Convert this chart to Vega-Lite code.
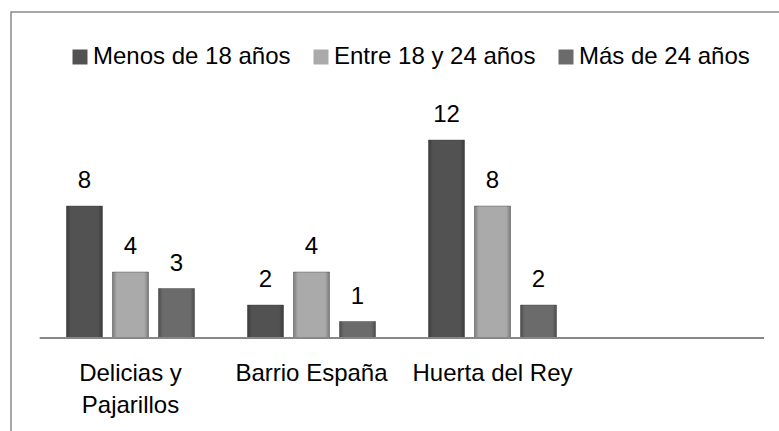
{
  "$schema": "https://vega.github.io/schema/vega-lite/v6.json",
  "width": 963,
  "height": 440,
  "autosize": {"type": "none"},
  "padding": {"left": 11, "top": 12, "right": -195, "bottom": -21},
  "background": "white",
  "config": {
    "view": {"stroke": "#8a8a8a", "strokeWidth": 1.5},
    "font": "Liberation Sans",
    "text": {"font": "Liberation Sans"}
  },
  "data": {
    "values": [
      {"zona": "Delicias y Pajarillos", "grupo": "Menos de 18 años", "valor": 8},
      {"zona": "Delicias y Pajarillos", "grupo": "Entre 18 y 24 años", "valor": 4},
      {"zona": "Delicias y Pajarillos", "grupo": "Más de 24 años", "valor": 3},
      {"zona": "Barrio España", "grupo": "Menos de 18 años", "valor": 2},
      {"zona": "Barrio España", "grupo": "Entre 18 y 24 años", "valor": 4},
      {"zona": "Barrio España", "grupo": "Más de 24 años", "valor": 1},
      {"zona": "Huerta del Rey", "grupo": "Menos de 18 años", "valor": 12},
      {"zona": "Huerta del Rey", "grupo": "Entre 18 y 24 años", "valor": 8},
      {"zona": "Huerta del Rey", "grupo": "Más de 24 años", "valor": 2}
    ]
  },
  "encoding": {
    "x": {
      "field": "zona",
      "type": "nominal",
      "sort": null,
      "scale": {
        "domain": ["Delicias y Pajarillos", "Barrio España", "Huerta del Rey", "_vacío", "_fuera"],
        "paddingInner": 0,
        "paddingOuter": 0.16
      },
      "axis": {
        "orient": "bottom",
        "offset": -114,
        "domain": false,
        "ticks": false,
        "title": null,
        "labelAngle": 0,
        "labelFont": "Liberation Sans",
        "labelFontSize": 24,
        "labelColor": "#000000",
        "labelPadding": 23,
        "labelLineHeight": 32,
        "labelBaseline": "top",
        "labelExpr": "datum.value == 'Delicias y Pajarillos' ? ['Delicias y', 'Pajarillos'] : (datum.value == '_vacío' || datum.value == '_fuera' ? '' : datum.value)"
      }
    },
    "y": {
      "field": "valor",
      "type": "quantitative",
      "scale": {"domain": [-6.909, 19.758], "nice": false, "zero": false},
      "axis": null
    },
    "xOffset": {
      "field": "grupo",
      "type": "nominal",
      "sort": ["Menos de 18 años", "Entre 18 y 24 años", "Más de 24 años"],
      "scale": {"paddingInner": 0.2174, "paddingOuter": 0.576}
    }
  },
  "layer": [
    {
      "mark": {"type": "bar", "stroke": "#3c3c3c", "strokeWidth": 0.8, "strokeOpacity": 0.5},
      "encoding": {
        "color": {
          "field": "grupo",
          "type": "nominal",
          "sort": ["Menos de 18 años", "Entre 18 y 24 años", "Más de 24 años"],
          "scale": {
            "domain": ["Menos de 18 años", "Entre 18 y 24 años", "Más de 24 años"],
            "range": ["#525252", "#aaaaaa", "#6b6b6b"]
          },
          "legend": {
            "title": null,
            "orient": "none",
            "direction": "horizontal",
            "legendX": 57,
            "legendY": 33,
            "symbolType": "square",
            "symbolSize": 225,
            "symbolStrokeWidth": 0,
            "labelFont": "Liberation Sans",
            "labelFontSize": 24,
            "labelColor": "#000000",
            "labelOffset": 1,
            "columnPadding": 18,
            "labelLimit": 400
          }
        }
      }
    },
    {
      "mark": {
        "type": "bar",
        "fill": {
          "gradient": "linear",
          "x1": 0, "x2": 1, "y1": 0, "y2": 0,
          "stops": [
            {"offset": 0, "color": "rgba(0,0,0,0.28)"},
            {"offset": 0.12, "color": "rgba(0,0,0,0)"},
            {"offset": 0.88, "color": "rgba(0,0,0,0)"},
            {"offset": 1, "color": "rgba(0,0,0,0.28)"}
          ]
        }
      },
      "encoding": {}
    },
    {
      "mark": {"type": "text", "baseline": "alphabetic", "dy": -18, "fontSize": 24, "color": "#000000", "font": "Liberation Sans"},
      "encoding": {
        "text": {"field": "valor", "type": "quantitative"}
      }
    },
    {
      "mark": {"type": "rule", "color": "#878787", "strokeWidth": 2},
      "encoding": {
        "x": {"datum": "Delicias y Pajarillos", "bandPosition": 0},
        "x2": {"datum": "_vacío", "bandPosition": 1},
        "y": {"datum": 0},
        "xOffset": null
      }
    }
  ]
}
